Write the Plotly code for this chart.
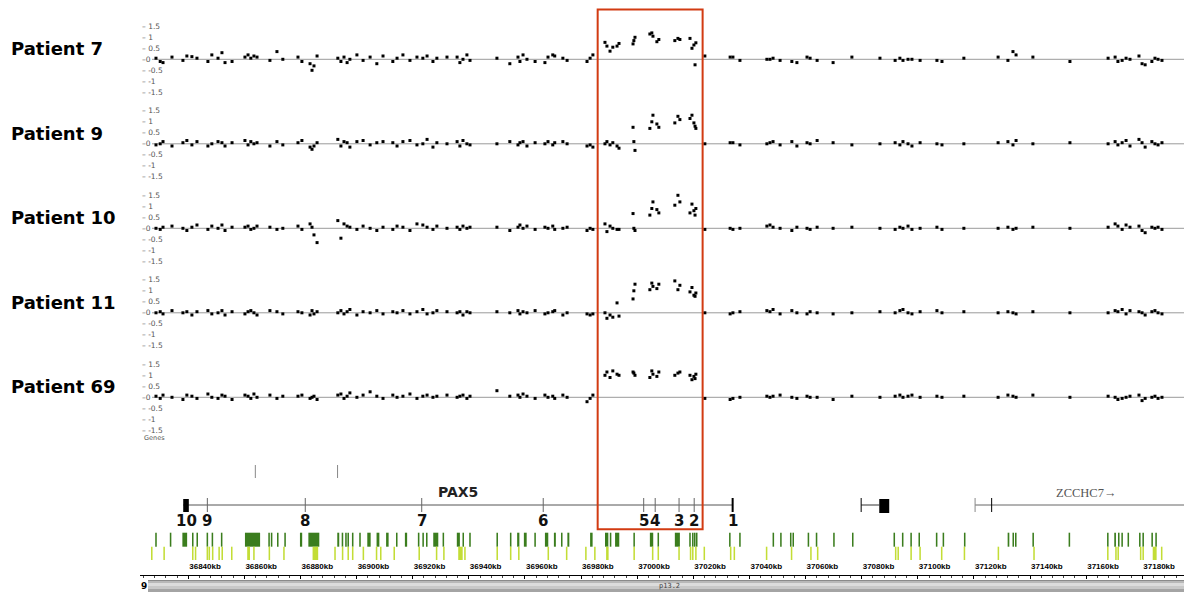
import plotly.graph_objects as go

# The page places the figure 8 px in from the top-left corner (default body margin),
# so the figure is sized to fill the rest of the 1192x592 window.
OFF = 8
W, H = 1192 - OFF, 592 - OFF
ML = 140 - OFF

# ---------------- data ----------------
probe_kb = [
    36828.5, 36830.0, 36831.0, 36834.2, 36838.1, 36839.5, 36841.3, 36843.1, 36847.0, 36848.4, 36850.6, 36852.0, 36853.1, 36855.6,
    36860.2, 36861.3, 36862.3, 36863.4, 36864.5, 36869.1, 36871.6, 36873.7,
    36879.1, 36880.5, 36883.4, 36884.1, 36884.8, 36885.9,
    36893.3, 36894.4, 36895.5, 36896.6, 36897.6, 36900.1, 36902.3, 36904.8, 36907.2, 36909.4,
    36912.9, 36914.4, 36916.5, 36919.0, 36921.5, 36923.6, 36925.1, 36927.2, 36928.6, 36932.2,
    36935.8, 36936.8, 36937.9, 36939.3, 36940.4,
    36950.0, 36954.6, 36957.5, 36958.2, 36959.3, 36960.7, 36963.6, 36967.1, 36968.2, 36969.9, 36970.6, 36973.5, 36975.0,
    36982.1, 36983.2, 36984.2,
    36988.5, 36989.2, 36990.3, 36991.3, 36992.8, 36993.5, 36998.5, 36998.8, 36999.2, 37004.5, 37005.2, 37005.6, 37007.0,
    37007.7, 37013.4, 37014.5, 37015.2, 37018.8, 37019.5, 37020.2, 37020.6, 37020.9,
    37024.1, 37033.1, 37034.1, 37036.6, 37046.2, 37047.3, 37048.4, 37050.9, 37055.1, 37056.9, 37060.5, 37061.6, 37064.1,
    37069.8, 37076.5,
    37086.5, 37091.9, 37093.6, 37094.7, 37096.5, 37097.9, 37100.8, 37106.8, 37108.6, 37116.4,
    37128.6, 37132.1, 37133.9, 37135.0, 37141.0, 37154.2,
    37167.8, 37170.3, 37171.3, 37172.8, 37174.2, 37175.6, 37178.8, 37179.9, 37181.0, 37183.4, 37184.5, 37185.6, 37187.0,
]

p7_log2 = [
    0.05, -0.1, -0.15, 0.1, -0.05, 0.15, 0.12, 0.05, -0.1, 0.2, 0.05, 0.3, -0.15, -0.1,
    0.1, 0.2, 0.05, 0.15, 0.1, -0.05, 0.35, 0.0,
    0.1, -0.1, -0.2, -0.5, -0.3, 0.15,
    0.05, -0.1, 0.1, -0.15, 0.0, 0.2, -0.05, 0.1, -0.2, 0.15,
    -0.1, 0.05, 0.2, -0.05, 0.1, 0.05, 0.15, -0.1, 0.05, 0.1,
    0.1, -0.15, 0.0, 0.2, -0.05,
    0.05, -0.2, 0.1, -0.1, 0.2, 0.0, -0.1, -0.15, 0.1, 0.2, 0.15, 0.05, -0.05,
    -0.1, 0.05, 0.2,
    0.77, 0.6, 0.37, 0.55, 0.6, 0.72, 0.7, 0.85, 1.0, 1.15, 1.2, 1.05, 0.8, 0.9, 0.85, 0.95, 0.9, 0.95, 0.5, 0.65, -0.25, 0.75,
    0.15, 0.1, 0.1, -0.05, 0.0, 0.0, 0.05, -0.05, -0.1, -0.15, 0.1, 0.05, -0.05, -0.15, 0.1,
    0.05, -0.05, 0.05, -0.05, 0.0, 0.0, -0.05, -0.05, -0.1, 0.05,
    0.1, -0.05, 0.35, 0.2, 0.1, -0.1,
    0.05, 0.1, -0.1, -0.05, 0.05, 0.0, 0.15, -0.2, -0.25, -0.1, 0.05, 0.0, -0.05,
]
p9_log2 = [
    -0.05, 0.0, 0.1, -0.1, 0.05, 0.15, -0.05, 0.1, -0.1, 0.0, 0.1, 0.05, -0.1, 0.05,
    0.15, -0.05, 0.1, 0.0, 0.05, -0.1, 0.1, -0.05,
    0.05, 0.15, -0.15, -0.25, -0.1, 0.05,
    0.2, -0.1, 0.1, 0.05, -0.15, 0.1, 0.15, -0.05, 0.05, 0.1,
    0.05, -0.1, 0.1, 0.15, -0.05, 0.0, 0.2, -0.15, 0.05, 0.0,
    0.1, -0.1, 0.15, 0.0, -0.05,
    0.0, 0.1, -0.05, 0.05, 0.1, -0.1, 0.05, 0.0, 0.1, -0.05, 0.05, 0.1, 0.0,
    -0.1, -0.05, -0.15,
    0.0, 0.1, -0.05, 0.05, -0.1, -0.2, 0.75, 0.1, -0.3, 0.7, 1.0, 1.3, 0.9, 0.75, 0.95, 1.25, 1.1, 1.15, 1.3, 0.95, 0.8, 0.7,
    0.0, 0.05, 0.05, -0.05, 0.0, 0.05, 0.1, -0.05, 0.1, -0.1, 0.05, 0.0, 0.15, 0.05, -0.05,
    0.0, 0.05, -0.05, 0.1, 0.0, -0.1, 0.05, 0.0, -0.05, 0.0,
    0.05, 0.1, -0.05, 0.15, 0.0, 0.05,
    0.0, 0.1, -0.05, 0.05, 0.15, -0.1, 0.2, 0.05, -0.15, 0.1, 0.0, -0.05, 0.05,
]
p10_log2 = [
    0.0, -0.05, 0.05, 0.1, 0.0, -0.1, 0.05, 0.15, -0.05, 0.1, 0.0, 0.15, -0.1, 0.05,
    0.05, 0.1, -0.05, 0.0, 0.1, 0.05, -0.05, 0.0,
    0.1, -0.05, 0.2, 0.05, -0.3, -0.65,
    0.35, -0.45, 0.2, 0.1, 0.05, -0.05, 0.1, 0.0, -0.1, 0.05,
    -0.05, 0.1, 0.05, -0.1, 0.2, 0.15, 0.05, -0.05, 0.1, 0.0,
    0.05, -0.05, 0.1, 0.0, 0.05,
    0.05, -0.1, 0.05, 0.15, 0.0, 0.1, -0.05, 0.05, 0.0, 0.1, -0.05, 0.0, 0.05,
    -0.1, 0.0, -0.05,
    0.2, -0.15, 0.1, 0.0, -0.05, -0.05, 0.67, 0.0, -0.1, 0.6, 0.9, 1.2, 0.85, 0.7, 1.05, 1.5, 1.2, 0.7, 1.1, 0.8, 0.6, 0.9,
    -0.05, 0.0, -0.05, 0.0, 0.1, 0.15, 0.05, 0.0, -0.1, 0.05, 0.0, -0.05, 0.05, 0.0, 0.05,
    0.0, -0.05, 0.05, 0.0, 0.1, -0.05, 0.0, 0.05, -0.05, 0.0,
    0.0, 0.05, -0.05, 0.0, 0.05, 0.0,
    0.05, 0.2, 0.1, -0.05, 0.15, 0.05, 0.1, -0.1, -0.2, 0.05, 0.0, 0.05, -0.05,
]
p11_log2 = [
    0.0, 0.05, -0.05, 0.1, 0.0, 0.05, -0.1, 0.05, 0.1, -0.05, 0.0, 0.1, -0.1, 0.05,
    -0.05, 0.05, 0.1, 0.0, -0.1, 0.1, 0.05, -0.05,
    0.05, 0.0, -0.1, 0.1, -0.05, 0.05,
    0.0, 0.1, -0.05, 0.05, 0.15, -0.1, 0.05, 0.0, 0.1, -0.05,
    0.05, 0.0, 0.1, -0.05, 0.05, 0.15, -0.05, 0.0, 0.1, 0.05,
    0.0, 0.05, -0.1, 0.05, 0.0,
    0.05, 0.0, 0.1, -0.05, 0.05, 0.0, 0.1, -0.05, 0.0, 0.05, 0.1, -0.1, 0.0,
    -0.05, -0.1, -0.05,
    0.0, -0.25, -0.1, -0.2, 0.45, -0.15, 0.63, 1.0, 1.3, 1.05, 1.35, 1.2, 1.1, 1.3, 1.45, 1.05, 1.25, 0.95, 1.15, 0.8, 0.75, 0.9,
    0.0, -0.05, 0.0, 0.05, 0.1, 0.05, 0.15, -0.05, 0.1, 0.0, -0.05, 0.05, 0.0, -0.05, 0.0,
    0.05, 0.0, 0.1, 0.15, 0.0, -0.05, 0.05, 0.1, 0.0, 0.05,
    0.0, 0.05, 0.0, -0.05, 0.05, 0.0,
    0.0, 0.1, 0.05, 0.15, -0.05, 0.1, 0.05, 0.0, -0.1, 0.05, 0.1, 0.0, -0.05,
]
p69_log2 = [
    0.05, -0.05, 0.1, 0.0, -0.1, 0.1, 0.05, -0.05, 0.15, 0.0, -0.05, 0.1, 0.05, -0.1,
    0.1, 0.05, -0.05, 0.15, 0.0, 0.1, -0.05, 0.05,
    0.05, 0.1, -0.05, 0.0, 0.05, -0.1,
    0.1, 0.15, -0.05, 0.05, 0.2, 0.0, 0.1, 0.25, 0.05, -0.05,
    0.1, 0.0, 0.05, 0.15, -0.05, 0.05, 0.1, 0.0, 0.05, 0.1,
    0.0, 0.05, 0.1, -0.05, 0.05,
    0.3, 0.05, 0.1, 0.0, 0.15, 0.05, -0.05, 0.1, 0.0, 0.05, -0.05, 0.1, 0.0,
    -0.2, -0.05, 0.1,
    1.0, 1.15, 0.9, 1.2, 1.05, 1.0, 1.15, 1.1, 1.0, 0.9, 1.2, 1.05, 0.95, 1.15, 1.0, 1.1, 1.15, 1.0, 0.8, 0.95, 0.85, 1.05,
    -0.05, -0.1, -0.05, 0.0, 0.05, 0.0, 0.05, 0.1, 0.0, -0.05, 0.05, 0.0, 0.0, -0.1, 0.05,
    0.0, 0.05, 0.1, 0.0, 0.05, 0.1, 0.0, 0.05, 0.0, 0.05,
    0.0, 0.1, 0.05, 0.0, 0.1, 0.0,
    0.05, 0.0, -0.1, -0.05, 0.0, 0.05, 0.1, -0.15, -0.05, 0.0, 0.05, -0.05, 0.0,
]

patients = ["Patient 7", "Patient 9", "Patient 10", "Patient 11", "Patient 69"]
patient_values = [p7_log2, p9_log2, p10_log2, p11_log2, p69_log2]

y_tickvals = [1.5, 1, 0.5, 0, -0.5, -1, -1.5]
y_ticktext = ["– 1.5", "– 1", "– 0.5", "–0", "– -0.5", "– -1", "– -1.5"]

highlight_kb = [36985.9, 37023.3]

other_marks_kb = [36863.9, 36893.2]

pax5_span = [36838.2, 37034.0]
pax5_exon10_box = [36838.2, 36840.2]
pax5_exon_labels = ["10", "9", "8", "7", "6", "5", "4", "3", "2", "1"]
pax5_exon_kb = [36839.2, 36846.8, 36881.7, 36923.2, 36966.5, 37002.3, 37006.4, 37014.9, 37020.3, 37034.0]

gene2_span = [37079.8, 37089.8]
gene2_box = [37086.25, 37089.8]

zcchc7_span = [37120.4, 37210.0]
zcchc7_ticks = [37120.4, 37126.3]

dark_green_bars = [
    (36828.5, 36828.5), (36833.7, 36833.7), (36837.9, 36839.6), (36841.6, 36841.6), (36843.2, 36843.2),
    (36846.8, 36846.8), (36848.6, 36848.6), (36851.9, 36851.9), (36860.2, 36865.6), (36868.8, 36868.8),
    (36869.7, 36869.7), (36871.9, 36871.9), (36874.5, 36874.5), (36879.8, 36880.6), (36882.8, 36886.7),
    (36893.1, 36893.8), (36894.7, 36895.2), (36896.2, 36896.2), (36897.0, 36897.0), (36898.6, 36898.6),
    (36901.2, 36901.2), (36903.8, 36905.0), (36907.1, 36908.1), (36910.5, 36911.4), (36914.3, 36914.3),
    (36917.2, 36918.0), (36922.1, 36922.1), (36923.7, 36923.7), (36925.0, 36925.0), (36927.3, 36929.1),
    (36930.9, 36930.9), (36935.7, 36936.8), (36938.0, 36938.0), (36940.4, 36940.4), (36950.1, 36950.1),
    (36954.9, 36954.9), (36957.2, 36958.0), (36959.6, 36960.6), (36963.6, 36963.6), (36967.1, 36968.3),
    (36970.3, 36971.0), (36973.1, 36973.1), (36975.1, 36975.8), (36983.2, 36984.1), (36988.5, 36989.7),
    (36990.5, 36990.5), (36992.1, 36993.6), (36998.9, 36998.9), (37004.5, 37005.7), (37007.5, 37007.5),
    (37013.4, 37015.2), (37018.8, 37018.8), (37019.8, 37019.8), (37020.5, 37020.5), (37021.2, 37021.2),
    (37033.0, 37033.0), (37036.6, 37036.6), (37048.5, 37048.5), (37051.2, 37051.2), (37054.7, 37054.7),
    (37055.6, 37055.6), (37061.0, 37061.0), (37063.9, 37063.9), (37070.1, 37070.1), (37076.8, 37076.8),
    (37091.6, 37091.6), (37094.6, 37094.6), (37097.6, 37097.6), (37100.5, 37100.5), (37106.7, 37106.7),
    (37109.1, 37109.1), (37116.7, 37116.7), (37132.0, 37132.6), (37134.0, 37134.0), (37134.9, 37134.9),
    (37141.1, 37141.1), (37154.0, 37154.0), (37167.7, 37167.7), (37170.0, 37170.6), (37171.6, 37171.6),
    (37172.8, 37172.8), (37175.0, 37175.0), (37179.1, 37179.1), (37180.3, 37180.3), (37183.3, 37183.7),
    (37184.9, 37184.9),
]
light_green_bars = [
    (36827.0, 36827.0), (36831.4, 36831.4), (36841.6, 36841.6), (36842.6, 36842.6), (36846.8, 36846.8),
    (36847.5, 36847.5), (36848.7, 36848.7), (36851.0, 36851.0), (36852.1, 36852.1), (36855.5, 36855.5),
    (36861.0, 36862.0), (36863.4, 36863.4), (36868.9, 36868.9), (36874.1, 36874.1), (36884.3, 36886.3),
    (36892.3, 36892.3), (36895.0, 36895.0), (36897.0, 36897.0), (36898.6, 36898.6), (36902.4, 36902.4),
    (36907.1, 36907.1), (36908.6, 36908.6), (36913.4, 36913.4), (36922.3, 36922.3), (36928.5, 36928.5),
    (36931.1, 36931.1), (36936.2, 36937.8), (36938.6, 36938.6), (36950.1, 36950.1), (36954.9, 36954.9),
    (36957.6, 36958.0), (36968.3, 36968.3), (36974.6, 36975.1), (36981.7, 36981.7), (36984.9, 36984.9),
    (36988.9, 36989.8), (36998.9, 36998.9), (37005.5, 37005.5), (37007.5, 37007.5), (37014.9, 37014.9),
    (37019.0, 37019.0), (37019.8, 37019.8), (37020.9, 37020.9), (37023.9, 37023.9), (37033.3, 37033.3),
    (37034.6, 37034.6), (37045.9, 37046.3), (37055.0, 37055.0), (37061.9, 37061.9), (37064.3, 37064.3),
    (37092.1, 37092.1), (37093.0, 37093.0), (37097.6, 37097.6), (37100.8, 37100.8), (37108.5, 37108.5),
    (37116.6, 37116.6), (37128.7, 37128.7), (37141.4, 37141.4), (37167.7, 37167.7), (37170.6, 37170.6),
    (37171.4, 37171.4), (37179.4, 37179.4), (37180.3, 37180.3), (37183.7, 37185.1), (37186.9, 37186.9),
]

x_range = [36822.8, 37197.7]
chrom_label = "9"
band_label = "p13.2"

# ---------------- layout helpers (arguments are window pixels) ----------------
def fy(px):
    return 1 - (px - OFF) / H

def fx(px):
    return (px - OFF - ML) / (W - ML)

zero0, zstep, half = 59.3, 84.5, 33.0

fig = go.Figure()
layout = dict(
    width=W, height=H,
    margin=dict(l=ML, r=0, t=0, b=0),
    paper_bgcolor="white", plot_bgcolor="white",
    showlegend=False,
    xaxis=dict(
        range=x_range, domain=[0, 1], anchor="y6",
        showline=True, linecolor="black", linewidth=1,
        ticks="outside", ticklen=3, tickcolor="black",
        tick0=36820, dtick=20, tickformat="d", ticksuffix="kb",
        ticklabelposition="inside right",
        tickfont=dict(family="Liberation Sans", size=8, color="black", weight="bold"),
        minor=dict(dtick=4, ticks="outside", ticklen=1.5, tickcolor="#444", showgrid=False),
        showgrid=False, zeroline=False, fixedrange=True,
    ),
)
shapes = []
annotations = []

for i, (name, vals) in enumerate(zip(patients, patient_values)):
    assert len(vals) == len(probe_kb)
    z = zero0 + zstep * i
    ax_key = "yaxis" if i == 0 else f"yaxis{i + 1}"
    yref = "y" if i == 0 else f"y{i + 1}"
    layout[ax_key] = dict(domain=[fy(z + half), fy(z - half)], range=[-1.5, 1.5],
                          visible=False, fixedrange=True)
    fig.add_trace(go.Scatter(
        x=probe_kb, y=vals, mode="markers", xaxis="x", yaxis=yref,
        marker=dict(symbol="square", size=3, color="black", line=dict(width=0)),
        cliponaxis=False, hoverinfo="skip",
    ))
    shapes.append(dict(type="line", xref="paper", yref=yref, x0=fx(152), x1=1, y0=0, y1=0,
                       line=dict(color="#9a9a9a", width=1), layer="below"))
    for tv, tt in zip(y_tickvals, y_ticktext):
        annotations.append(dict(x=0, xref="paper", y=tv, yref=yref, text=tt, showarrow=False,
                                xanchor="left", yanchor="middle", xshift=0,
                                font=dict(family="DejaVu Sans", size=7.5, color="#555")))
    annotations.append(dict(x=fx(9), xref="paper", y=fy(z - 10.5), yref="paper", text=f"<b>{name}</b>",
                            showarrow=False, xanchor="left", yanchor="middle",
                            font=dict(family="DejaVu Sans", size=18, color="black")))

# gene track axis (anchor for the kb axis)
layout["yaxis6"] = dict(domain=[fy(575), fy(445)], range=[0, 1], visible=False, fixedrange=True)
fig.add_trace(go.Scatter(x=[x_range[0]], y=[0.5], xaxis="x", yaxis="y6", mode="markers",
                         marker=dict(opacity=0), hoverinfo="skip"))

annotations.append(dict(x=0, xref="paper", y=fy(438), yref="paper", text="Genes", showarrow=False,
                        xanchor="left", yanchor="middle", xshift=2,
                        font=dict(family="DejaVu Sans", size=6.5, color="#555")))

for k in other_marks_kb:
    shapes.append(dict(type="line", xref="x", yref="paper", x0=k, x1=k, y0=fy(478), y1=fy(465),
                       line=dict(color="#888", width=1)))

# PAX5
shapes.append(dict(type="line", xref="x", yref="paper", x0=pax5_span[0], x1=pax5_span[1],
                   y0=fy(505), y1=fy(505), line=dict(color="#555", width=1)))
shapes.append(dict(type="rect", xref="x", yref="paper", x0=pax5_exon10_box[0], x1=pax5_exon10_box[1],
                   y0=fy(512), y1=fy(499), fillcolor="black", line=dict(width=0)))
for lab, k in zip(pax5_exon_labels, pax5_exon_kb):
    if lab != "10":
        last = lab == "1"
        shapes.append(dict(type="line", xref="x", yref="paper", x0=k, x1=k, y0=fy(512), y1=fy(498),
                           line=dict(color="black" if last else "#666", width=2 if last else 1)))
    annotations.append(dict(x=k, xref="x", y=fy(521), yref="paper", text=f"<b>{lab}</b>", showarrow=False,
                            xanchor="center", yanchor="middle",
                            font=dict(family="DejaVu Sans", size=15, color="#111")))
annotations.append(dict(x=(pax5_span[0] + pax5_span[1]) / 2, xref="x", y=fy(492), yref="paper",
                        text="<b>PAX5</b>", showarrow=False, xanchor="center", yanchor="middle",
                        font=dict(family="DejaVu Sans", size=14, color="#222")))

# second gene
shapes.append(dict(type="line", xref="x", yref="paper", x0=gene2_span[0], x1=gene2_box[0],
                   y0=fy(505), y1=fy(505), line=dict(color="#333", width=1)))
shapes.append(dict(type="line", xref="x", yref="paper", x0=gene2_span[0], x1=gene2_span[0],
                   y0=fy(512), y1=fy(498), line=dict(color="black", width=1)))
shapes.append(dict(type="rect", xref="x", yref="paper", x0=gene2_box[0], x1=gene2_box[1],
                   y0=fy(513), y1=fy(499), fillcolor="black", line=dict(width=0)))

# ZCCHC7
shapes.append(dict(type="line", xref="x", yref="paper", x0=zcchc7_span[0], x1=zcchc7_span[1],
                   y0=fy(505), y1=fy(505), line=dict(color="#666", width=1)))
for j, k in enumerate(zcchc7_ticks):
    shapes.append(dict(type="line", xref="x", yref="paper", x0=k, x1=k, y0=fy(512), y1=fy(498),
                       line=dict(color="#888" if j == 0 else "black", width=1)))
annotations.append(dict(x=37160, xref="x", y=fy(493), yref="paper", text="ZCCHC7→", showarrow=False,
                        xanchor="center", yanchor="middle",
                        font=dict(family="Liberation Serif", size=12.5, color="#555")))

# green tracks
def add_bars(bars, color, top, bottom):
    for s, e in bars:
        w = max(e - s, 0.55)
        c = (s + e) / 2
        shapes.append(dict(type="rect", xref="x", yref="paper", x0=c - w / 2, x1=c + w / 2,
                           y0=fy(bottom), y1=fy(top), fillcolor=color, line=dict(width=0)))

add_bars(dark_green_bars, "#3b7d1e", 532.7, 546.7)
add_bars(light_green_bars, "#c3dd36", 546.7, 560.0)

# ideogram
for t, b, c in [(580, 581, "#8a8a8a"), (581, 583, "#b8b8b8"), (583, 586, "#dcdcdc"),
                (586, 589, "#c8c8c8"), (589, 592, "#a4a4a4")]:
    shapes.append(dict(type="rect", xref="paper", yref="paper", x0=fx(148), x1=1, y0=fy(b), y1=fy(t),
                       fillcolor=c, line=dict(width=0)))
annotations.append(dict(x=fx(144), xref="paper", y=fy(585.5), yref="paper", text=f"<b>{chrom_label}</b>",
                        showarrow=False, xanchor="center", yanchor="middle",
                        font=dict(family="DejaVu Sans", size=9, color="black")))
annotations.append(dict(x=fx(669.5), xref="paper", y=fy(585.8), yref="paper", text=band_label,
                        showarrow=False, xanchor="center", yanchor="middle",
                        font=dict(family="DejaVu Sans Mono", size=7, color="#444")))

# highlight box
shapes.append(dict(type="rect", xref="x", yref="paper", x0=highlight_kb[0], x1=highlight_kb[1],
                   y0=fy(529.3), y1=fy(9.5), line=dict(color="#d23b12", width=2),
                   fillcolor="rgba(0,0,0,0)", layer="above"))

layout["shapes"] = shapes
layout["annotations"] = annotations
fig.update_layout(**layout)
fig.write_html("out.html")
